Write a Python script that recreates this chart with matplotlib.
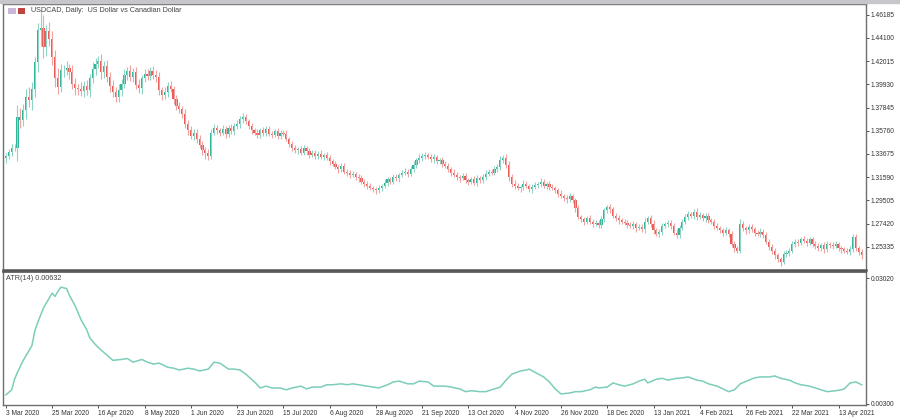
import numpy as np
import matplotlib.pyplot as plt
from matplotlib.patches import Rectangle

# daily closes, pips (price * 10000)
closes = [
    13350, 13385, 13420, 13425, 13700, 13670, 13760, 13880, 13850, 13950,
    14190, 14480, 14500, 14330, 14470, 14400, 14240, 14050, 13970, 14120,
    14120, 14140, 14100, 14000, 13960, 13950, 13930, 13980, 13940, 14050,
    14130, 14180, 14200, 14100, 14160, 14060, 13980, 13920, 13880, 13940,
    14000, 14080, 14110, 14060, 14100, 13990, 13960, 14050, 14090, 14070,
    14110, 14080, 14060, 13940, 13900, 13920, 13980, 13950, 13860, 13800,
    13770, 13730, 13640, 13580, 13530, 13560, 13500, 13450, 13400, 13380,
    13350, 13560, 13600, 13580, 13560, 13590, 13550, 13600, 13570, 13620,
    13640, 13680, 13700, 13660, 13620, 13580, 13560, 13540, 13580, 13560,
    13590, 13550, 13540, 13570, 13530, 13560, 13550, 13500, 13460, 13420,
    13400, 13410, 13380, 13420, 13390, 13360, 13380, 13350, 13370, 13340,
    13360, 13330, 13300, 13280, 13250, 13230, 13260, 13210, 13200, 13180,
    13190, 13160, 13150, 13120, 13100, 13080, 13060, 13050, 13040, 13060,
    13080, 13110, 13140, 13120, 13160, 13150, 13180, 13200, 13210, 13190,
    13230, 13270, 13310, 13330, 13350, 13360, 13340, 13320, 13340, 13300,
    13310, 13280, 13260, 13230, 13200, 13180, 13160, 13150, 13170, 13130,
    13120, 13140, 13110, 13150, 13130, 13160, 13190, 13210, 13200, 13230,
    13250, 13310, 13330, 13270, 13160, 13100, 13080, 13060, 13070, 13100,
    13080, 13050, 13070, 13090, 13100, 13120, 13080, 13100, 13070, 13060,
    13040, 13010, 12990, 12970, 12960, 12990, 12950, 12880, 12800, 12780,
    12760, 12790, 12760, 12740, 12750, 12730, 12780, 12860, 12890, 12870,
    12810, 12790, 12770, 12760, 12750, 12730, 12720, 12740, 12700, 12710,
    12690, 12760, 12790, 12740, 12680, 12650, 12670, 12720, 12740, 12750,
    12720, 12660, 12640, 12700, 12760, 12800, 12830, 12810, 12850, 12800,
    12820, 12790, 12810, 12770, 12760, 12720, 12700, 12680, 12660, 12680,
    12650, 12560, 12520, 12500, 12740, 12700, 12680, 12710, 12690, 12660,
    12650, 12670, 12640, 12580, 12530, 12500, 12460, 12420, 12400, 12470,
    12480, 12500, 12560, 12580, 12570, 12600, 12590, 12570, 12600, 12560,
    12540, 12520, 12550, 12510, 12560, 12550, 12540, 12560, 12520, 12510,
    12500, 12490, 12510, 12620, 12520, 12490, 12460,
]
first_open = 13330

# wick lengths above / below the body, pips
upper_wick = [
    30, 25, 40, 35, 110, 80, 60, 70, 90, 60,
    50, 60, 160, 120, 60, 80, 70, 60, 90, 60,
    50, 60, 40, 70, 50, 40, 60, 45, 50, 40,
    60, 50, 45, 70, 40, 55, 40, 50, 45, 60,
    40, 50, 35, 55, 40, 45, 50, 30, 45, 40,
    35, 50, 40, 45, 30, 45, 35, 40, 30, 40,
    35, 30, 45, 30, 40, 35, 30, 40, 35, 30,
    30, 35, 40, 30, 25, 35, 30, 25, 35, 30,
    30, 25, 35, 30, 25, 30, 25, 35, 20, 30,
    25, 30, 20, 25, 30, 20, 25, 30, 20, 25,
    25, 20, 30, 25, 20, 30, 25, 20, 25, 30,
    20, 25, 30, 20, 25, 20, 30, 25, 20, 25,
    25, 20, 30, 25, 20, 25, 30, 20, 25, 30,
    20, 30, 25, 20, 30, 25, 20, 25, 30, 20,
    25, 30, 25, 35, 30, 25, 20, 30, 25, 20,
    25, 30, 20, 25, 20, 30, 25, 20, 25, 30,
    25, 20, 30, 25, 20, 25, 30, 25, 20, 30,
    25, 40, 30, 35, 30, 25, 30, 25, 20, 30,
    25, 20, 30, 25, 20, 30, 25, 20, 25, 30,
    20, 25, 30, 20, 25, 30, 20, 25, 30, 20,
    25, 20, 30, 25, 20, 25, 30, 25, 20, 25,
    20, 25, 30, 20, 25, 20, 30, 25, 20, 25,
    25, 30, 20, 25, 30, 20, 25, 30, 20, 25,
    20, 25, 30, 25, 20, 30, 25, 20, 25, 30,
    25, 20, 30, 25, 20, 25, 30, 20, 25, 30,
    20, 25, 30, 20, 45, 25, 20, 30, 25, 20,
    25, 30, 20, 25, 20, 30, 25, 20, 25, 30,
    25, 20, 30, 25, 20, 25, 30, 20, 25, 20,
    25, 30, 20, 25, 30, 20, 25, 30, 20, 25,
    20, 25, 30, 30, 25, 20, 25,
]
lower_wick = [
    40, 30, 35, 30, 120, 70, 50, 80, 60, 90,
    70, 90, 140, 100, 80, 60, 70, 80, 60, 50,
    60, 40, 55, 45, 60, 50, 40, 55, 45, 60,
    45, 55, 40, 60, 50, 45, 55, 40, 50, 45,
    50, 40, 45, 35, 50, 40, 45, 55, 35, 40,
    40, 35, 45, 40, 50, 35, 40, 30, 45, 35,
    30, 40, 35, 45, 30, 40, 35, 30, 45, 60,
    35, 30, 25, 35, 30, 25, 35, 30, 25, 30,
    25, 35, 30, 25, 30, 35, 25, 30, 25, 35,
    30, 25, 30, 20, 25, 30, 25, 20, 30, 25,
    20, 30, 25, 20, 30, 25, 20, 30, 25, 20,
    25, 20, 30, 25, 20, 30, 25, 20, 30, 25,
    20, 25, 30, 20, 25, 30, 20, 25, 30, 20,
    25, 20, 30, 25, 20, 25, 30, 20, 25, 30,
    20, 25, 30, 20, 25, 30, 20, 25, 30, 20,
    25, 30, 20, 25, 30, 20, 25, 30, 20, 25,
    30, 20, 25, 30, 20, 25, 30, 20, 25, 20,
    25, 30, 20, 25, 35, 30, 25, 20, 30, 25,
    20, 25, 30, 20, 25, 30, 20, 25, 30, 20,
    25, 30, 20, 25, 30, 20, 25, 30, 20, 25,
    30, 20, 25, 30, 20, 25, 30, 20, 25, 30,
    20, 25, 30, 20, 25, 30, 20, 25, 30, 20,
    25, 30, 20, 25, 30, 20, 25, 30, 20, 25,
    30, 20, 25, 30, 20, 25, 30, 20, 25, 30,
    20, 25, 30, 20, 25, 30, 20, 25, 30, 20,
    25, 30, 35, 25, 20, 25, 30, 20, 25, 30,
    20, 25, 30, 20, 25, 30, 35, 25, 40, 20,
    25, 30, 20, 25, 30, 20, 25, 30, 20, 25,
    30, 20, 25, 30, 20, 25, 30, 20, 25, 30,
    20, 25, 30, 20, 25, 30, 35,
]

# ATR(14) readings: bar index and value
atr_bar = [0, 2, 3, 4, 6, 9, 10, 11, 13, 16, 17, 18, 19, 21, 22, 24, 26, 28, 29, 31,
           33, 35, 37, 40, 42, 44, 47, 49, 51, 53, 56, 58, 60, 63, 65, 67, 70, 72, 74, 77,
           79, 81, 83, 86, 88, 90, 92, 95, 97, 99, 102, 104, 106, 109, 111, 113, 116, 118, 120, 122,
           125, 127, 129, 132, 134, 136, 139, 141, 143, 146, 148, 150, 152, 154, 157, 159, 161, 164, 166, 168,
           171, 173, 175, 178, 180, 181, 183, 186, 188, 190, 192, 195, 197, 199, 202, 204, 205, 208, 210, 212,
           214, 217, 219, 221, 222, 225, 227, 229, 232, 234, 236, 239, 241, 243, 246, 248, 250, 252, 254, 257,
           259, 261, 264, 266, 268, 271, 273, 275, 278, 280, 282, 284, 287, 289, 290, 292, 294, 296]
atr_val = [0.0049, 0.0060, 0.0083, 0.0098, 0.0124, 0.0156, 0.0188, 0.0206, 0.0238, 0.0270,
           0.0263, 0.0274, 0.0283, 0.0280, 0.0265, 0.0242, 0.0212, 0.0190, 0.0173, 0.0158,
           0.0146, 0.0135, 0.0124, 0.0126, 0.0128, 0.0120, 0.0126, 0.0120, 0.0116, 0.0118,
           0.0109, 0.0107, 0.0103, 0.0107, 0.0105, 0.0101, 0.0105, 0.0120, 0.0118, 0.0105,
           0.0105, 0.0103, 0.0094, 0.0077, 0.0064, 0.0068, 0.0064, 0.0064, 0.0060, 0.0064,
           0.0068, 0.0062, 0.0066, 0.0066, 0.0071, 0.0071, 0.0073, 0.0071, 0.0073, 0.0071,
           0.0068, 0.0066, 0.0064, 0.0071, 0.0077, 0.0079, 0.0073, 0.0073, 0.0079, 0.0077,
           0.0068, 0.0068, 0.0068, 0.0066, 0.0062, 0.0056, 0.0058, 0.0056, 0.0056, 0.0060,
           0.0066, 0.0081, 0.0094, 0.0101, 0.0103, 0.0105, 0.0098, 0.0088, 0.0077, 0.0062,
           0.0051, 0.0053, 0.0056, 0.0056, 0.0060, 0.0066, 0.0064, 0.0066, 0.0075, 0.0071,
           0.0068, 0.0073, 0.0079, 0.0083, 0.0075, 0.0083, 0.0085, 0.0081, 0.0085, 0.0086,
           0.0088, 0.0081, 0.0079, 0.0073, 0.0068, 0.0062, 0.0056, 0.0060, 0.0073, 0.0081,
           0.0086, 0.0088, 0.0088, 0.0090, 0.0085, 0.0081, 0.0075, 0.0071, 0.0068, 0.0064,
           0.0060, 0.0056, 0.0058, 0.0060, 0.0062, 0.0075, 0.0077, 0.0071]

date_labels = ["3 Mar 2020", "25 Mar 2020", "16 Apr 2020", "8 May 2020", "1 Jun 2020",
               "23 Jun 2020", "15 Jul 2020", "6 Aug 2020", "28 Aug 2020", "21 Sep 2020",
               "13 Oct 2020", "4 Nov 2020", "26 Nov 2020", "18 Dec 2020", "13 Jan 2021",
               "4 Feb 2021", "26 Feb 2021", "22 Mar 2021", "13 Apr 2021"]
date_bars = [0, 16, 32, 48, 64, 80, 96, 112, 128, 144, 160, 176, 192, 208, 224, 240, 256, 272, 288]
price_ticks = [1.46185, 1.44100, 1.42015, 1.39930, 1.37845, 1.35760,
               1.33675, 1.31590, 1.29505, 1.27420, 1.25335]
atr_ticks = [0.03020, 0.00300]

plt.rcParams['font.family'] = ['Liberation Sans', 'DejaVu Sans']

c = np.array(closes) / 10000
o = np.array([first_open] + closes[:-1]) / 10000
hi = np.maximum(o, c) + np.array(upper_wick) / 10000
lo = np.minimum(o, c) - np.array(lower_wick) / 10000
idx = np.arange(len(c))
up = c >= o

bull = '#2db69b'
bear = '#ea5a56'
frame = '#6e6e6e'

fig = plt.figure(figsize=(9, 4.19), dpi=100)
fig.patches.append(Rectangle((0, 1 - 3 / 419), 1, 3 / 419, transform=fig.transFigure,
                             color='#c9c5cc', zorder=0))

ax = fig.add_axes([3 / 900, 1 - 270 / 419, 863 / 900, 266 / 419])
ax2 = fig.add_axes([3 / 900, 1 - 405 / 419, 863 / 900, 133 / 419], sharex=ax)

ax.vlines(idx[up], lo[up], hi[up], color='#8fd3c4', lw=0.8)
ax.vlines(idx[~up], lo[~up], hi[~up], color='#f0a3a0', lw=0.8)
body = np.maximum(np.abs(c - o), 0.0004)
ax.bar(idx[up], body[up], bottom=np.minimum(o, c)[up], width=0.75, color=bull, lw=0)
ax.bar(idx[~up], body[~up], bottom=np.minimum(o, c)[~up], width=0.75, color=bear, lw=0)
ax.set_ylim(1.2325, 1.4715)
ax.set_xlim(-1.0, 297.5)

ax2.plot(atr_bar, atr_val, color='#7ccdb9', lw=1.1)
ax2.set_ylim(0.0027, 0.0316)

for a in (ax, ax2):
    a.yaxis.tick_right()
    a.tick_params(axis='y', direction='out', length=2, width=0.6, labelsize=4.8,
                  colors='#333333', pad=1.5)
    for s in a.spines.values():
        s.set_color(frame)
        s.set_linewidth(1.0)
    a.set_facecolor('white')

ax.spines['bottom'].set_linewidth(1.8)
ax.spines['bottom'].set_color('#555555')
ax2.spines['top'].set_linewidth(1.2)
ax2.spines['top'].set_color('#555555')

ax.set_yticks(price_ticks)
ax.set_yticklabels([f"{v:.5f}" for v in price_ticks])
ax2.set_yticks(atr_ticks)
ax2.set_yticklabels([f"{v:.5f}" for v in atr_ticks])

ax.tick_params(axis='x', bottom=False, labelbottom=False)
ax2.set_xticks(date_bars)
ax2.set_xticklabels(date_labels, ha='left')
ax2.tick_params(axis='x', direction='out', length=2.5, width=0.6, labelsize=4.8,
                colors='#333333', pad=1)

ax.text(0.032, 0.988, "USDCAD, Daily:  US Dollar vs Canadian Dollar", transform=ax.transAxes,
        fontsize=5.2, color='#444444', va='top', ha='left')
ax.add_patch(Rectangle((0.006, 0.962), 0.009, 0.024, transform=ax.transAxes,
                       color='#c9b6d9', lw=0))
ax.add_patch(Rectangle((0.017, 0.962), 0.009, 0.024, transform=ax.transAxes,
                       color='#c2423f', lw=0))
ax2.text(0.004, 0.975, "ATR(14) 0.00632", transform=ax2.transAxes,
         fontsize=5.2, color='#444444', va='top', ha='left')

fig.savefig("out.png", dpi=100, facecolor='white')
